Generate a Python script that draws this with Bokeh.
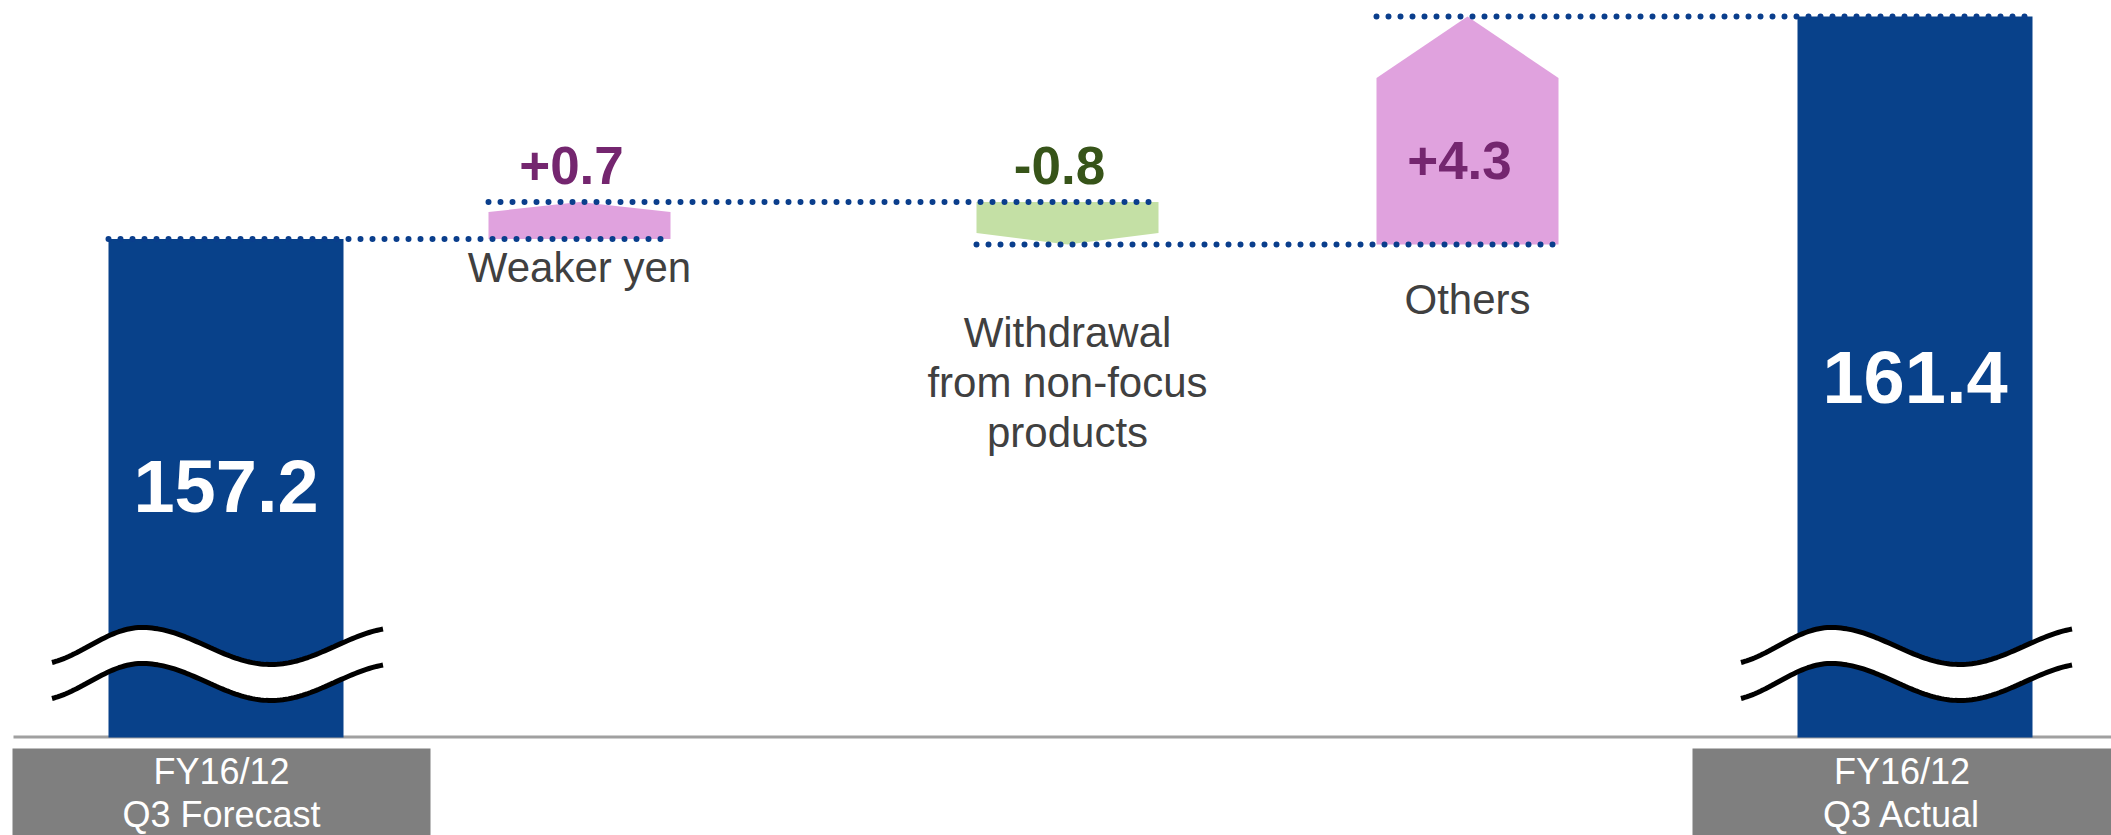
import numpy as np
from bokeh.plotting import figure
from bokeh.models import Range1d
from bokeh.core.properties import value
from bokeh.embed import file_html
from bokeh.resources import INLINE

# ---- data -------------------------------------------------------------
categories = [
    "FY16/12\nQ3 Forecast",
    "Weaker yen",
    "Withdrawal\nfrom non-focus\nproducts",
    "Others",
    "FY16/12\nQ3 Actual",
]
start_total = 157.2
changes = [0.7, -0.8, 4.3]
end_total = 161.4

# ---- layout / style ---------------------------------------------------
W, H = 2111, 835
PX = 53.0                       # pixels per unit on the (broken) value axis
Y_END = end_total + 16 / PX
Y_START = Y_END - H / PX

slot_x = [225.5, 579, 1067, 1467, 1914.5]
BAR_W = 235
ARROW_W = 182
HEAD = 0.27                     # arrow head length as share of the change
BASELINE_FIX = 0.375            # alphabetic baseline correction, in em

NAVY = "#08418A"
DOT = "#0A3E8C"
PINK = "#E0A2DE"
GREEN = "#C4E0A5"
PURPLE = "#74266F"
DGREEN = "#375419"
LABEL = "#404040"
BOX = "#7F7F7F"
BASE = "#A0A0A0"
FONT = value("Liberation Sans")

DELTA_SIZE, TOTAL_SIZE, CAT_SIZE, BOX_SIZE = 53, 74, 42, 36


def sy(px):
    """Screen row (from the top) -> value-axis coordinate."""
    return Y_END - px / PX


def text_y(px, size):
    """Value coordinate that puts a text baseline on screen row px."""
    return sy(px - BASELINE_FIX * size)


levels = [start_total]
for c in changes:
    levels.append(round(levels[-1] + c, 1))

widths = [BAR_W] + [ARROW_W] * len(changes) + [BAR_W]

p = figure(
    width=W, height=H,
    x_range=Range1d(0, W), y_range=Range1d(Y_START, Y_END),
    x_axis_type=None, y_axis_type=None,
    output_backend="svg", toolbar_location=None,
    min_border=0, outline_line_color=None,
    background_fill_color="white", border_fill_color="white",
)
p.grid.visible = False

# baseline
base_v = sy(737)
p.segment(x0=[13], y0=[sy(736.5)], x1=[W], y1=[sy(736.5)],
          line_color=BASE, line_width=3)

# total bars
p.vbar(x=[slot_x[0], slot_x[-1]], top=[start_total, end_total],
       bottom=base_v, width=BAR_W, fill_color=NAVY, line_color=None)

# change arrows
xs, ys, fills = [], [], []
for i, c in enumerate(changes):
    base, tip = levels[i], levels[i + 1]
    shoulder = tip - HEAD * c
    xc = slot_x[i + 1]
    xl, xr = xc - ARROW_W / 2, xc + ARROW_W / 2
    xs.append([xl, xr, xr, xc, xl])
    ys.append([base, base, shoulder, tip, shoulder])
    fills.append(PINK if c > 0 else GREEN)
p.patches(xs=xs, ys=ys, fill_color=fills, line_color=None)

# axis-break waves across the two total bars
for xc in (slot_x[0], slot_x[-1]):
    x0, x1 = xc - 174, xc + 157
    t = np.linspace(0, x1 - x0, 120)
    phase = np.interp(t, [0, 90, 219, 331],
                      [-0.85 * np.pi, 0, np.pi, np.pi + 112 * np.pi / 129])
    upper_px = 645.5 - 18.5 * np.cos(phase)
    lower_px = upper_px + 36
    wx = x0 + t
    p.patch(x=np.concatenate([wx, wx[::-1]]),
            y=np.concatenate([sy(upper_px), sy(lower_px[::-1])]),
            fill_color="white", line_color=None)
    p.line(x=wx, y=sy(upper_px), line_color="black", line_width=5)
    p.line(x=wx, y=sy(lower_px), line_color="black", line_width=5)

# dotted connectors at each running total
cx0, cx1, cy = [], [], []
for i, lv in enumerate(levels):
    cx0.append(slot_x[i] - widths[i] / 2)
    cx1.append(slot_x[i + 1] + widths[i + 1] / 2 - 5)
    cy.append(lv)
p.segment(x0=cx0, y0=cy, x1=cx1, y1=cy, line_color=DOT, line_width=6,
          line_dash="0 12", line_cap="round")

# change labels
fix = BASELINE_FIX * DELTA_SIZE / PX
lx, ly, lt, lc = [], [], [], []
for i, c in enumerate(changes):
    base, tip = levels[i], levels[i + 1]
    tall = abs(c) * PX > 120
    lx.append(slot_x[i + 1] - 8)
    ly.append((base + 64 / PX if tall else max(base, tip) + 17 / PX) + fix)
    lt.append(f"{c:+.1f}")
    lc.append(PURPLE if c > 0 else DGREEN)
p.text(x=lx, y=ly, text=lt, text_color=lc, text_font=FONT,
       text_font_style="bold", text_font_size=f"{DELTA_SIZE}px",
       text_align="center", text_baseline="alphabetic")

# total labels inside the bars
p.text(x=[slot_x[0], slot_x[-1]],
       y=[text_y(513, TOTAL_SIZE), text_y(404, TOTAL_SIZE)],
       text=[f"{start_total:.1f}", f"{end_total:.1f}"],
       text_color="white", text_font=FONT, text_font_style="bold",
       text_font_size=f"{TOTAL_SIZE}px", text_align="center",
       text_baseline="alphabetic")

# category labels of the changes
first_line_px = [283, 348, 315]
tx, ty, tt = [], [], []
for i, name in enumerate(categories[1:-1]):
    for k, line in enumerate(name.split("\n")):
        tx.append(slot_x[i + 1])
        ty.append(text_y(first_line_px[i] + 50 * k, CAT_SIZE))
        tt.append(line)
p.text(x=tx, y=ty, text=tt, text_color=LABEL, text_font=FONT,
       text_font_size=f"{CAT_SIZE}px", text_align="center",
       text_baseline="alphabetic")

# grey boxes with the period labels
box_edges = [(12, 430), (1692, W + 2)]
p.quad(left=[b[0] for b in box_edges], right=[b[1] for b in box_edges],
       top=sy(748), bottom=Y_START - 1, fill_color=BOX, line_color=None)
bx, by, bt = [], [], []
for (l, r), name in zip(box_edges, [categories[0], categories[-1]]):
    for k, line in enumerate(name.split("\n")):
        bx.append((l + min(r, W)) / 2)
        by.append(text_y(784 + 43 * k, BOX_SIZE))
        bt.append(line)
p.text(x=bx, y=by, text=bt, text_color="white", text_font=FONT,
       text_font_size=f"{BOX_SIZE}px", text_align="center",
       text_baseline="alphabetic")

open("out.html", "w").write(file_html(p, INLINE))
